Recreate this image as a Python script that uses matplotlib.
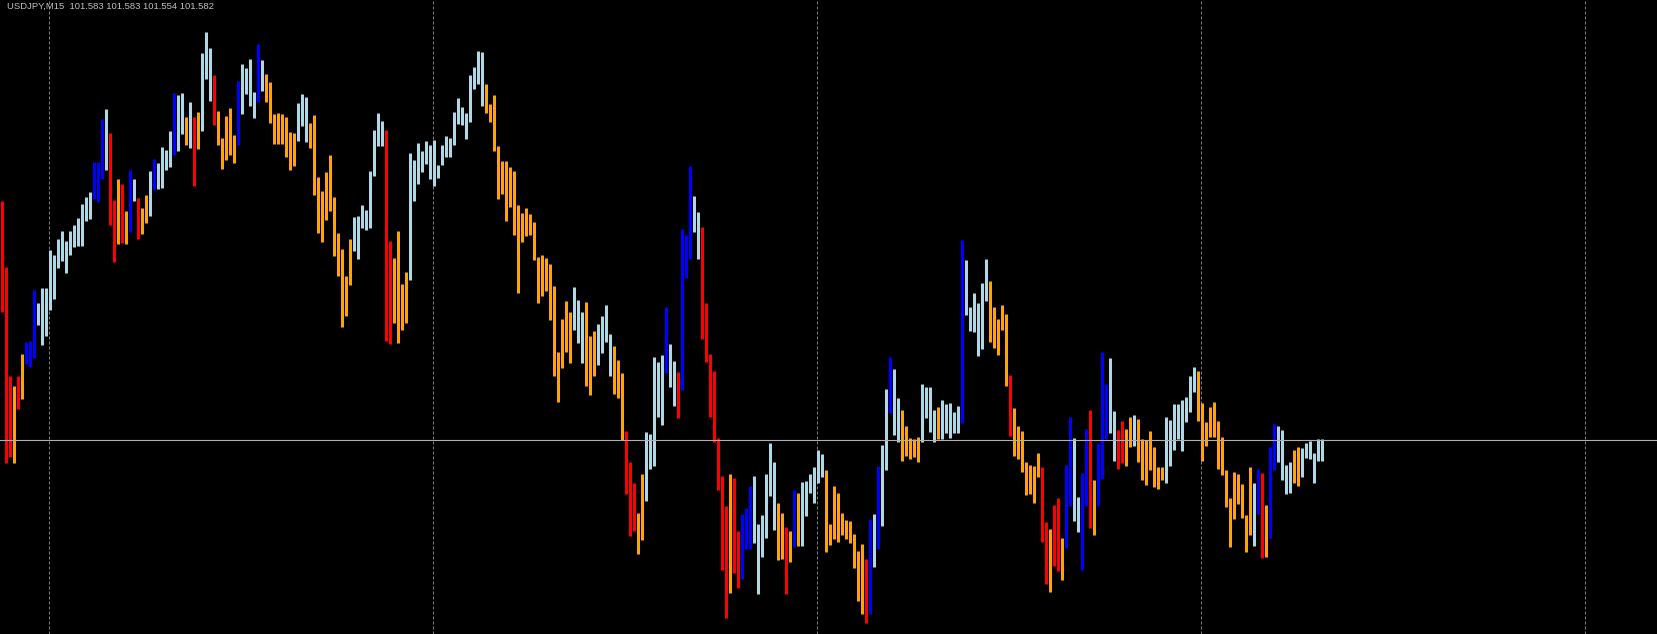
import numpy as np
import matplotlib
matplotlib.use('Agg')
import matplotlib.pyplot as plt

# USDJPY M15, one bar per 15 minutes (high / low), oldest first
highs = [
    101.821, 101.755, 101.646, 101.636, 101.646, 101.668, 101.680, 101.681, 101.732, 101.719,
    101.734, 101.734, 101.772, 101.767, 101.783, 101.791, 101.781, 101.791, 101.797, 101.804,
    101.818, 101.825, 101.830, 101.860, 101.860, 101.903, 101.913, 101.889, 101.822, 101.843,
    101.838, 101.811, 101.852, 101.843, 101.824, 101.814, 101.827, 101.851, 101.863, 101.859,
    101.875, 101.872, 101.891, 101.929, 101.927, 101.929, 101.905, 101.920, 101.905, 101.910,
    101.969, 101.990, 101.974, 101.947, 101.911, 101.884, 101.906, 101.914, 101.887, 101.941,
    101.958, 101.954, 101.963, 101.930, 101.978, 101.962, 101.948, 101.940, 101.908, 101.909,
    101.908, 101.905, 101.890, 101.889, 101.919, 101.928, 101.925, 101.899, 101.907, 101.845,
    101.831, 101.850, 101.867, 101.825, 101.789, 101.773, 101.746, 101.783, 101.805, 101.806,
    101.817, 101.812, 101.851, 101.892, 101.909, 101.901, 101.892, 101.781, 101.764, 101.791,
    101.738, 101.750, 101.869, 101.862, 101.879, 101.871, 101.881, 101.877, 101.882, 101.857,
    101.877, 101.886, 101.884, 101.910, 101.924, 101.915, 101.909, 101.947, 101.955, 101.971,
    101.970, 101.938, 101.918, 101.927, 101.876, 101.861, 101.861, 101.855, 101.851, 101.817,
    101.809, 101.814, 101.808, 101.800, 101.765, 101.767, 101.764, 101.758, 101.736, 101.670,
    101.703, 101.721, 101.710, 101.735, 101.722, 101.710, 101.720, 101.686, 101.691, 101.698,
    101.706, 101.717, 101.688, 101.676, 101.662, 101.649, 101.591, 101.560, 101.539, 101.509,
    101.548, 101.590, 101.588, 101.665, 101.660, 101.667, 101.715, 101.678, 101.661, 101.650,
    101.793, 101.787, 101.856, 101.826, 101.810, 101.795, 101.719, 101.668, 101.651, 101.584,
    101.546, 101.516, 101.548, 101.544, 101.491, 101.508, 101.514, 101.536, 101.546, 101.498,
    101.507, 101.548, 101.579, 101.560, 101.519, 101.509, 101.495, 101.491, 101.532, 101.529,
    101.540, 101.541, 101.548, 101.555, 101.572, 101.568, 101.552, 101.498, 101.536, 101.529,
    101.509, 101.502, 101.501, 101.488, 101.471, 101.478, 101.463, 101.503, 101.508, 101.556,
    101.577, 101.633, 101.665, 101.653, 101.624, 101.612, 101.596, 101.584, 101.583, 101.585,
    101.638, 101.635, 101.635, 101.612, 101.615, 101.622, 101.618, 101.619, 101.610, 101.616,
    101.782, 101.762, 101.715, 101.729, 101.719, 101.739, 101.763, 101.741, 101.715, 101.703,
    101.717, 101.708, 101.647, 101.614, 101.596, 101.591, 101.560, 101.557, 101.556, 101.569,
    101.555, 101.500, 101.493, 101.517, 101.524, 101.484, 101.557, 101.605, 101.584, 101.525,
    101.549, 101.593, 101.612, 101.542, 101.579, 101.670, 101.638, 101.664, 101.611, 101.592,
    101.601, 101.593, 101.605, 101.607, 101.603, 101.583, 101.582, 101.591, 101.575, 101.555,
    101.555, 101.605, 101.602, 101.618, 101.618, 101.622, 101.625, 101.646, 101.655, 101.651,
    101.619, 101.600, 101.615, 101.620, 101.601, 101.585, 101.552, 101.524, 101.550, 101.548,
    101.538, 101.507, 101.555, 101.539, 101.553, 101.549, 101.517, 101.575, 101.598, 101.596,
    101.592, 101.557, 101.560, 101.572, 101.575, 101.574, 101.579, 101.581, 101.569, 101.583,
    101.583,
]

lows = [
    101.710, 101.559, 101.565, 101.559, 101.613, 101.623, 101.658, 101.655, 101.664, 101.697,
    101.677, 101.686, 101.712, 101.723, 101.754, 101.761, 101.749, 101.767, 101.775, 101.776,
    101.776, 101.801, 101.803, 101.823, 101.820, 101.843, 101.852, 101.797, 101.760, 101.778,
    101.779, 101.778, 101.790, 101.821, 101.783, 101.788, 101.799, 101.806, 101.832, 101.833,
    101.834, 101.852, 101.855, 101.867, 101.871, 101.888, 101.877, 101.874, 101.836, 101.873,
    101.891, 101.943, 101.921, 101.897, 101.877, 101.853, 101.862, 101.867, 101.859, 101.877,
    101.908, 101.928, 101.916, 101.904, 101.920, 101.931, 101.920, 101.899, 101.878, 101.878,
    101.878, 101.865, 101.852, 101.856, 101.881, 101.896, 101.880, 101.874, 101.827, 101.789,
    101.780, 101.802, 101.811, 101.766, 101.746, 101.695, 101.706, 101.737, 101.771, 101.763,
    101.794, 101.792, 101.794, 101.846, 101.876, 101.876, 101.681, 101.678, 101.699, 101.679,
    101.692, 101.699, 101.742, 101.821, 101.838, 101.850, 101.858, 101.843, 101.836, 101.844,
    101.857, 101.865, 101.865, 101.877, 101.898, 101.897, 101.883, 101.900, 101.933, 101.938,
    101.916, 101.909, 101.900, 101.871, 101.823, 101.828, 101.801, 101.815, 101.787, 101.729,
    101.780, 101.786, 101.787, 101.762, 101.719, 101.726, 101.731, 101.702, 101.646, 101.620,
    101.654, 101.670, 101.659, 101.692, 101.679, 101.659, 101.636, 101.627, 101.646, 101.657,
    101.669, 101.680, 101.646, 101.628, 101.624, 101.582, 101.528, 101.486, 101.491, 101.468,
    101.482, 101.521, 101.553, 101.556, 101.605, 101.597, 101.649, 101.635, 101.616, 101.604,
    101.632, 101.744, 101.763, 101.790, 101.763, 101.683, 101.660, 101.605, 101.580, 101.532,
    101.452, 101.404, 101.429, 101.449, 101.434, 101.443, 101.473, 101.473, 101.479, 101.428,
    101.465, 101.484, 101.526, 101.492, 101.462, 101.463, 101.428, 101.460, 101.475, 101.476,
    101.476, 101.506, 101.529, 101.519, 101.539, 101.545, 101.470, 101.477, 101.483, 101.480,
    101.487, 101.483, 101.479, 101.454, 101.421, 101.408, 101.399, 101.408, 101.455, 101.473,
    101.496, 101.552, 101.609, 101.587, 101.580, 101.561, 101.566, 101.563, 101.565, 101.560,
    101.580, 101.604, 101.590, 101.580, 101.583, 101.583, 101.589, 101.584, 101.589, 101.589,
    101.599, 101.707, 101.691, 101.690, 101.666, 101.673, 101.721, 101.680, 101.674, 101.667,
    101.692, 101.636, 101.586, 101.566, 101.563, 101.550, 101.527, 101.528, 101.519, 101.545,
    101.480, 101.438, 101.430, 101.456, 101.451, 101.442, 101.474, 101.516, 101.501, 101.490,
    101.452, 101.516, 101.494, 101.487, 101.516, 101.543, 101.583, 101.589, 101.561, 101.553,
    101.559, 101.556, 101.575, 101.576, 101.560, 101.542, 101.537, 101.552, 101.535, 101.533,
    101.542, 101.539, 101.556, 101.572, 101.583, 101.571, 101.600, 101.610, 101.630, 101.601,
    101.561, 101.576, 101.585, 101.585, 101.553, 101.547, 101.515, 101.475, 101.503, 101.518,
    101.504, 101.470, 101.487, 101.476, 101.508, 101.464, 101.465, 101.484, 101.552, 101.560,
    101.542, 101.528, 101.529, 101.539, 101.536, 101.545, 101.564, 101.563, 101.539, 101.561,
    101.561,
]

# indicator state per bar: r = strong down, o = down, b = strong up, l = up
states = ''.join([
    'rrrorobbbl', 'llllllllll', 'lllbbblrro', 'roblroolbl', 'lllbllolro',
    'lllrooooob', 'llllbloooo', 'oooolllooo', 'ooooooooll', 'llllllrroo',
    'oollllllll', 'llllllllll', 'looooooooo', 'oooooooooo', 'ooollloool',
    'lllooorrro', 'olllllbllr', 'bbbllrrrrr', 'rrorrbbbll', 'lllloorobo',
    'lllllloooo', 'oooooorblb', 'llbllooooo', 'llllolllll', 'bllllllooo',
    'oorooooooo', 'rrorrobbll', 'bbrobbbllr', 'rooloooooo', 'ollllllllo',
    'oooooooooo', 'ooolbrobbl', 'llloolllll', 'l',
])

symbol = 'USDJPY,M15'
last_ohlc = ['101.583', '101.583', '101.554', '101.582']
bid = 101.582
grid_every = 96
first_grid = 12

state_colors = {'r': '#ff0000', 'o': '#ffa500', 'b': '#0000ff', 'l': '#add8e6'}

n = len(highs)
x = np.arange(n)
colors = [state_colors[s] for s in states[:n]]

fig = plt.figure(figsize=(16.57, 6.34), dpi=100)
fig.patch.set_facecolor('black')
ax = fig.add_axes([0, 0, 1, 1])
ax.set_facecolor('black')

# vertical dashed separators
for gx in range(first_grid, 420, grid_every):
    ax.axvline(gx - 0.25, color='#7c7c7c', linewidth=0.72, dashes=(3, 2), zorder=1)

ax.vlines(x, lows, highs, colors=colors, linewidth=2.16, capstyle='butt', zorder=2)

# bid line
ax.axhline(bid, color='#b0b0b0', linewidth=0.8, zorder=3)

ax.set_xlim(-0.375, -0.375 + 1657 / 4)
ax.set_ylim(101.388, 102.022)
ax.axis('off')

fig.text(7 / 1657, 1 - 9 / 634, symbol + '  ' + ' '.join(last_ohlc),
         color='#c0c0c0', fontsize=6.8, family='Liberation Sans', va='baseline')

fig.savefig('out.png', dpi=100, facecolor='black')
